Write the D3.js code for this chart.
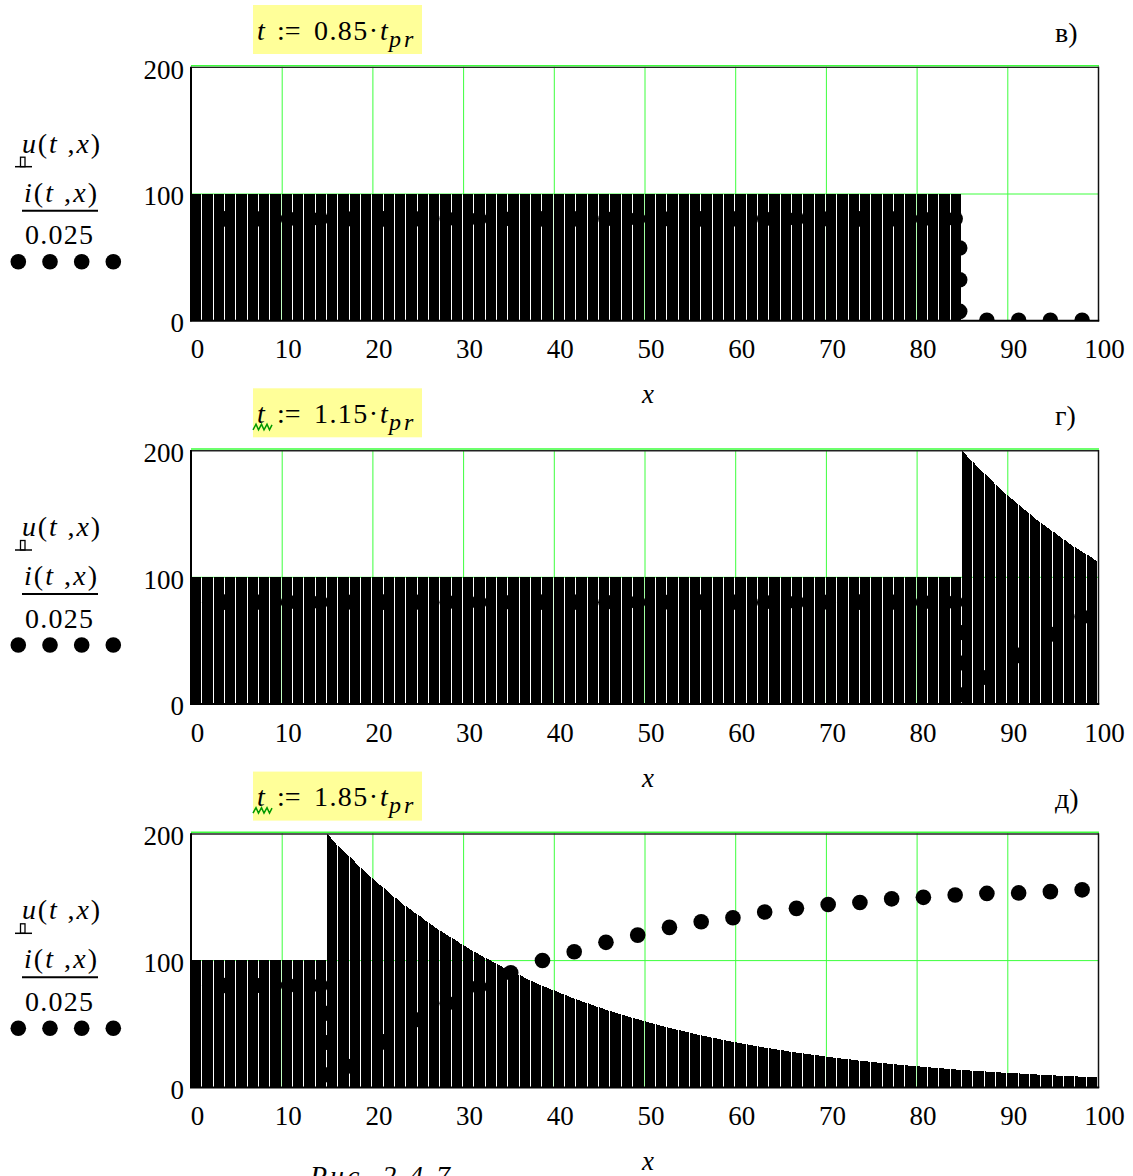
<!DOCTYPE html>
<html><head><meta charset="utf-8">
<script src="https://cdn.jsdelivr.net/npm/d3@7"></script>
<style>body{margin:0;background:#fff}svg{display:block}</style>
</head><body>
<script>
// ---------- data ----------
const xTicks = [0,10,20,30,40,50,60,70,80,90,100];
const yTicks = [0,100,200];
const panelLetters = ["в)","г)","д)"];
const factors = ["0.85","1.15","1.85"];

// bar x positions (left edges, grid step 1.25)
const barStep = 1.25;
const xs = [
0,1.25,2.5,3.75,5,6.25,7.5,8.75,10,11.25,12.5,13.75,15,16.25,17.5,18.75,
20,21.25,22.5,23.75,25,26.25,27.5,28.75,30,31.25,32.5,33.75,35,36.25,37.5,38.75,
40,41.25,42.5,43.75,45,46.25,47.5,48.75,50,51.25,52.5,53.75,55,56.25,57.5,58.75,
60,61.25,62.5,63.75,65,66.25,67.5,68.75,70,71.25,72.5,73.75,75,76.25,77.5,78.75,
80,81.25,82.5,83.75,85,86.25,87.5,88.75,90,91.25,92.5,93.75,95,96.25,97.5,98.75];

// u(t,x), t = 0.85 tpr (value at each bar's left edge)
const u1 = [
100,100,100,100,100,100,100,100,100,100,100,100,100,100,100,100,
100,100,100,100,100,100,100,100,100,100,100,100,100,100,100,100,
100,100,100,100,100,100,100,100,100,100,100,100,100,100,100,100,
100,100,100,100,100,100,100,100,100,100,100,100,100,100,100,100,
100,100,100,100,0,0,0,0,0,0,0,0,0,0,0,0];
// u(t,x), t = 1.15 tpr
const u2 = [
100,100,100,100,100,100,100,100,100,100,100,100,100,100,100,100,
100,100,100,100,100,100,100,100,100,100,100,100,100,100,100,100,
100,100,100,100,100,100,100,100,100,100,100,100,100,100,100,100,
100,100,100,100,100,100,100,100,100,100,100,100,100,100,100,100,
100,100,100,100,200,190.6,181.6,173.1,164.9,157.1,149.7,142.7,136.0,129.6,123.5,117.7];
// u(t,x), t = 1.85 tpr
const u3 = [
100,100,100,100,100,100,100,100,100,100,100,100,200,190.6,181.6,173.1,
164.9,157.1,149.7,142.7,136.0,129.6,123.5,117.7,112.2,106.9,101.8,97.1,92.5,88.1,84.0,80.0,
76.3,72.7,69.2,66.0,62.9,59.9,57.1,54.4,51.9,49.4,47.1,44.9,42.8,40.7,38.8,37.0,
35.3,33.6,32.0,30.5,29.1,27.7,26.4,25.2,24.0,22.8,21.8,20.7,19.8,18.8,17.9,17.1,
16.3,15.5,14.8,14.1,13.4,12.8,12.2,11.6,11.1,10.6,10.1,9.6,9.1,8.7,8.3,7.9];
// u(t,x) at the right end x = 100
const uEnd = [0, 112.2, 7.5];

// i(t,x)/0.025 sampled points
const dotX = [0.25,3.75,7.25,10.75,14.25,17.75,21.25,24.75,28.25,31.75,35.25,38.75,42.25,45.75,49.25,
  52.75,56.25,59.75,63.25,66.75,70.25,73.75,77.25,80.75,84.25,87.75,91.25,94.75,98.25];
const i1 = [80,80,80,80,80,80,80,80,80,80,80,80,80,80,80,80,80,80,80,80,80,80,80,80,80,0,0,0,0];
const i2 = [80,80,80,80,80,80,80,80,80,80,80,80,80,80,80,80,80,80,80,80,80,80,80,80,80,20.5,38,54.7,68.4];
const i3 = [80,80,80,80,80,16.3,35.5,53,66,79,90,99.7,106.6,114,119.7,125.8,130.2,133.4,137.9,140.8,
  143.9,145.4,148.3,149.5,151.3,152.6,153,154,155.4];
// extra points on the wave front
const frontX = [84.75,84.75,14.75];
const front1 = [57,32,7], front2 = [56,32,7], front3 = [58,35,9.5];

const panels = [
  {u:u1, end:uEnd[0], i:i1, fx:frontX[0], fv:front1},
  {u:u2, end:uEnd[1], i:i2, fx:frontX[1], fv:front2},
  {u:u3, end:uEnd[2], i:i3, fx:frontX[2], fv:front3}
];

// ---------- layout ----------
const W = 1133, H = 1176;
const tops = [66.7, 450, 833.3];
const plotH = 253.6;
const FONT = "Liberation Serif";
const GREEN = "#3cff3c";
const R = 7.8;

const svg = d3.select("body").append("svg").attr("width", W).attr("height", H)
  .attr("font-family", FONT);

const X = d3.scaleLinear().domain([0,100]).range([191,1098]);

panels.forEach((p, k) => {
  const T = tops[k];
  const Y = d3.scaleLinear().domain([0,200]).range([T+plotH, T]);
  const g = svg.append("g");

  const cid = "clip"+k;
  svg.append("clipPath").attr("id", cid).append("rect")
    .attr("x", X(0)).attr("y", Y(200)).attr("width", X(100)-X(0)).attr("height", Y(0)-Y(200));

  // grid
  g.append("g").selectAll("line").data(xTicks.slice(1, -1)).join("line")
    .attr("x1", d => X(d)+0.5).attr("x2", d => X(d)+0.5)
    .attr("y1", Y(200)).attr("y2", Y(0))
    .attr("stroke", GREEN).attr("stroke-width", 1);
  g.append("g").selectAll("line").data([100]).join("line")
    .attr("x1", X(0)).attr("x2", X(100))
    .attr("y1", d => Y(d)+0.5).attr("y2", d => Y(d)+0.5)
    .attr("stroke", GREEN).attr("stroke-width", 1);
  g.append("line").attr("x1", X(0)).attr("x2", X(100)+1)
    .attr("y1", Y(200)-1).attr("y2", Y(200)-1)
    .attr("stroke", GREEN).attr("stroke-width", 1.5);

  // bars: top runs from this bar's value towards the next one on a decaying stretch
  const bars = xs.map((x, j) => {
    const v = p.u[j];
    const nxt = j + 1 < xs.length ? p.u[j+1] : p.end;
    const vR = (nxt > 0 && nxt < v && v > 100.5) || (nxt > 0 && nxt < v && v < 99.5) ? nxt : v;
    return {x, v, vR};
  }).filter(d => d.v > 0);
  g.append("g").attr("clip-path", `url(#${cid})`).attr("shape-rendering","crispEdges")
    .selectAll("path").data(bars).join("path")
    .attr("d", d => {
      const x0 = Math.round(X(d.x)), x1 = Math.round(X(d.x + barStep)) - 1;
      const y0 = Math.round(Y(0));
      return `M${x0},${y0}L${x0},${Y(d.v)}L${x1},${Y(d.vR)}L${x1},${y0}Z`;
    })
    .attr("fill", "#000");

  // frame
  g.append("line").attr("x1", X(0)).attr("x2", X(100)+1).attr("y1", Y(200)+0.7).attr("y2", Y(200)+0.7)
    .attr("stroke", "#222").attr("stroke-width", 1.4);
  g.append("line").attr("x1", X(0)).attr("x2", X(0)).attr("y1", Y(200)).attr("y2", Y(0)+1)
    .attr("stroke", "#000").attr("stroke-width", 2);
  g.append("line").attr("x1", X(100)+0.5).attr("x2", X(100)+0.5).attr("y1", Y(200)).attr("y2", Y(0)+1)
    .attr("stroke", "#111").attr("stroke-width", 1.5);
  g.append("line").attr("x1", X(0)-1).attr("x2", X(100)+1.2).attr("y1", Y(0)+0.5).attr("y2", Y(0)+0.5)
    .attr("stroke", "#000").attr("stroke-width", 2);

  // dots
  const dots = dotX.map((x, j) => ({x, v:p.i[j]}))
    .concat(p.fv.map(v => ({x:p.fx, v})));
  g.append("g").attr("clip-path", `url(#${cid})`)
    .selectAll("circle").data(dots).join("circle")
    .attr("cx", d => X(d.x)).attr("cy", d => Y(d.v)).attr("r", R).attr("fill", "#000");

  // axes
  const ax = g.append("g").attr("transform", `translate(0,${Y(0)})`)
    .call(d3.axisBottom(X).tickValues(xTicks).tickSize(0).tickPadding(19).tickFormat(d3.format("d")));
  ax.attr("font-family", FONT).attr("font-size", 27);
  ax.select(".domain").remove();
  ax.selectAll("text").attr("fill", "#000").attr("dx", 6);

  const ay = g.append("g").attr("transform", `translate(${X(0)},0)`)
    .call(d3.axisLeft(Y).tickValues(yTicks).tickSize(0).tickPadding(7).tickFormat(d3.format("d")));
  ay.attr("font-family", FONT).attr("font-size", 27);
  ay.select(".domain").remove();
  ay.selectAll("text").attr("fill", "#000").attr("dy", "0.42em");

  // x label
  g.append("text").attr("x", 648).attr("y", Y(0)+83).attr("text-anchor", "middle")
    .attr("font-size", 27).attr("font-style", "italic").text("x");

  // title box
  g.append("rect").attr("x", 253).attr("y", T-61.7).attr("width", 169).attr("height", 49)
    .attr("fill", "#ffff99");
  const tb = T - 27.2;
  g.append("text").attr("x", 257).attr("y", tb).attr("font-size", 28).attr("font-style", "italic").text("t");
  g.append("text").attr("x", 277).attr("y", tb).attr("font-size", 28).text(":=");
  g.append("text").attr("x", 314).attr("y", tb).attr("font-size", 28)
    .attr("textLength", 64).attr("lengthAdjust", "spacing").text(factors[k] + "·");
  g.append("text").attr("x", 380).attr("y", tb).attr("font-size", 28).attr("font-style", "italic").text("t");
  g.append("text").attr("x", 389).attr("y", tb+7).attr("font-size", 24).attr("font-style", "italic")
    .attr("letter-spacing", 3).text("pr");
  if (k > 0) {
    g.append("polyline")
      .attr("points", [[253,tb+7],[256,tb+1.5],[258.5,tb+7],[261.5,tb+1.5],[264,tb+7],[267,tb+1.5],[269.5,tb+7],[272,tb+2]].map(q=>q.join(",")).join(" "))
      .attr("fill", "none").attr("stroke", "#009900").attr("stroke-width", 1.5);
  }

  // panel letter
  g.append("text").attr("x", 1055).attr("y", T-25).attr("font-size", 28).text(panelLetters[k]);

  // left legend
  const ul = g.append("text").attr("x", 22).attr("y", T+86).attr("font-size", 28)
    .attr("textLength", 78).attr("lengthAdjust", "spacing");
  ul.append("tspan").attr("font-style", "italic").text("u");
  ul.append("tspan").text("(");
  ul.append("tspan").attr("font-style", "italic").text("t");
  ul.append("tspan").text(" ,");
  ul.append("tspan").attr("font-style", "italic").text("x");
  ul.append("tspan").text(")");
  g.append("line").attr("x1", 15).attr("x2", 32).attr("y1", T+100).attr("y2", T+100)
    .attr("stroke", "#000").attr("stroke-width", 1.5);
  g.append("rect").attr("x", 20.5).attr("y", T+90.5).attr("width", 4.5).attr("height", 9.5)
    .attr("fill", "none").attr("stroke", "#000").attr("stroke-width", 1.3);

  const il = g.append("text").attr("x", 24).attr("y", T+135).attr("font-size", 28)
    .attr("textLength", 73).attr("lengthAdjust", "spacing");
  il.append("tspan").attr("font-style", "italic").text("i");
  il.append("tspan").text("(");
  il.append("tspan").attr("font-style", "italic").text("t");
  il.append("tspan").text(" ,");
  il.append("tspan").attr("font-style", "italic").text("x");
  il.append("tspan").text(")");
  g.append("line").attr("x1", 22).attr("x2", 98).attr("y1", T+144).attr("y2", T+144)
    .attr("stroke", "#000").attr("stroke-width", 2);
  g.append("text").attr("x", 25).attr("y", T+177.5).attr("font-size", 28)
    .attr("textLength", 68).attr("lengthAdjust", "spacing").text("0.025");
  g.append("g").selectAll("circle").data([18.3, 50, 81.7, 113.3]).join("circle")
    .attr("cx", d => d).attr("cy", T+195).attr("r", R).attr("fill", "#000");
});

// caption
svg.append("text").attr("x", 310).attr("y", 1185).attr("font-size", 28).attr("font-style", "italic")
  .attr("textLength", 140).attr("lengthAdjust", "spacing").text("Рис. 2.4.7");
</script>
</body></html>
